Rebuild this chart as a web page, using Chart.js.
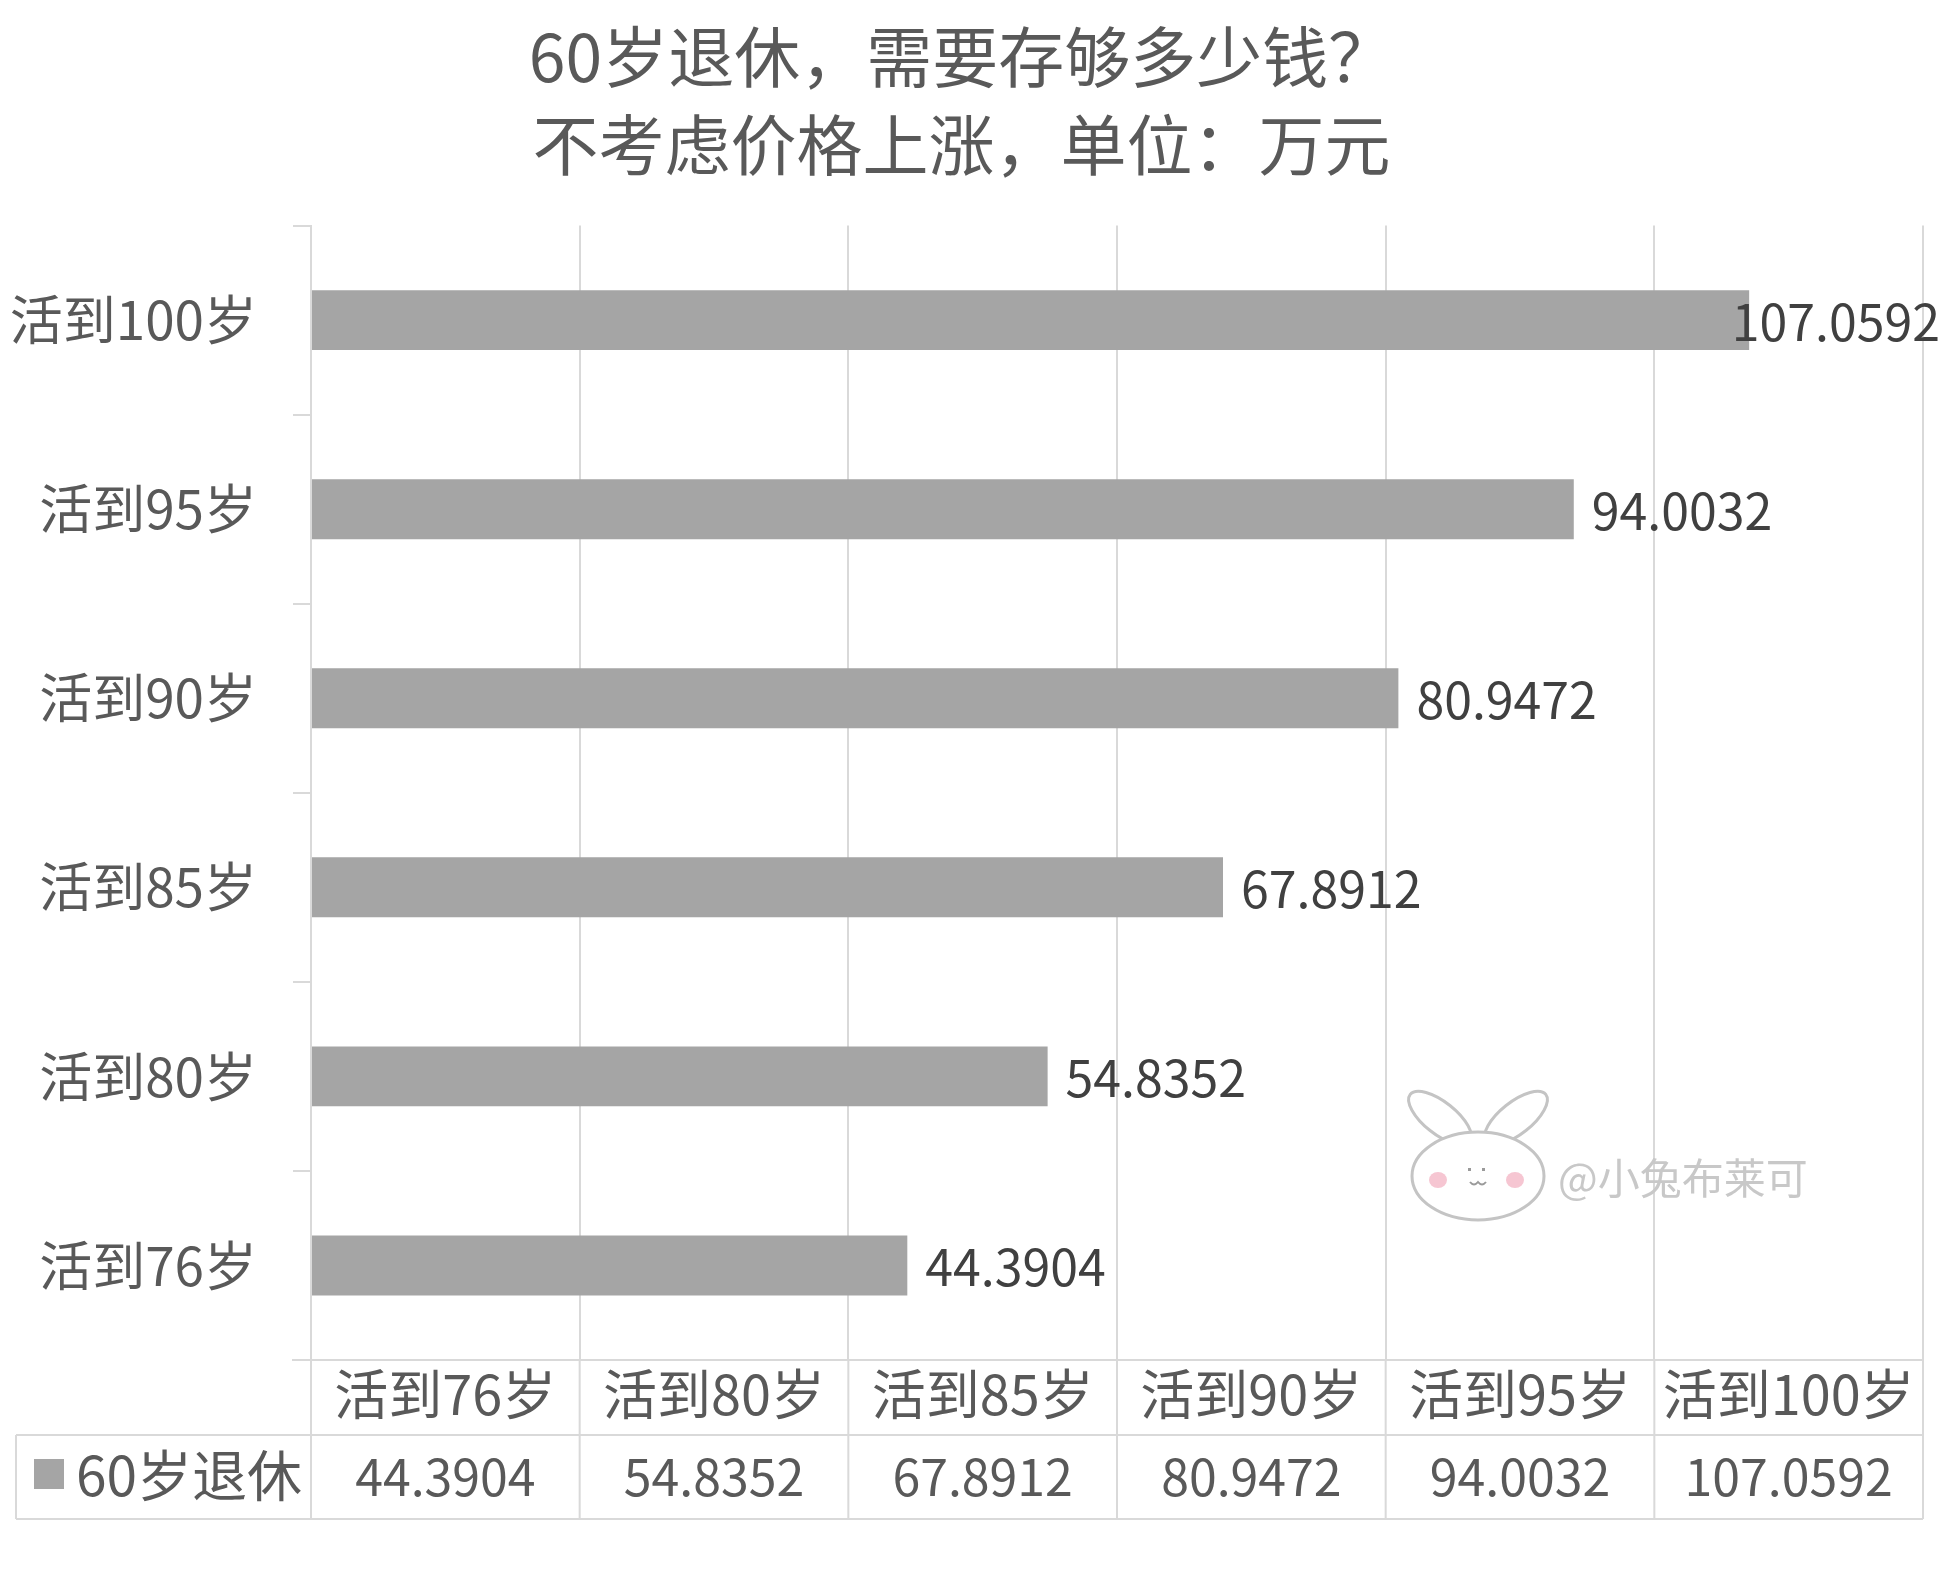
<!DOCTYPE html>
<html lang="zh-CN">
<head>
<meta charset="utf-8">
<title>60岁退休，需要存够多少钱？</title>
<script src="https://cdn.jsdelivr.net/npm/chart.js@4/dist/chart.umd.min.js"></script>
<style>
    html, body { margin: 0; padding: 0; background: #ffffff; }
    #wrap { width: 1950px; height: 1572px; position: relative; }
</style>
</head>
<body>
<div id="wrap"><canvas id="grafico"></canvas></div>
<script>
const categorias = ['活到76岁', '活到80岁', '活到85岁', '活到90岁', '活到95岁', '活到100岁'];
const nombreSerie = '60岁退休';
const valores = [44.3904, 54.8352, 67.8912, 80.9472, 94.0032, 107.0592];
const tituloLineas = ['60岁退休，需要存够多少钱？', '不考虑价格上涨，单位：万元'];
const ejeMin = 0;
const ejeMax = 120;
const ejePaso = 20;
const marcaAgua = '@小兔布莱可';

const fuente = "'Noto Sans CJK SC', 'Noto Sans', sans-serif";
const gris = '#a5a5a5';
const lineaGris = '#d9d9d9';
const textoGris = '#595959';

// etiquetas de valor al final de cada barra
const etiquetasValor = {
    id: 'etiquetasValor',
    afterDatasetsDraw(chart) {
        const ctx = chart.ctx;
        const meta = chart.getDatasetMeta(0);
        ctx.save();
        ctx.font = `50px ${fuente}`;
        ctx.fillStyle = '#404040';
        ctx.textAlign = 'left';
        ctx.textBaseline = 'middle';
        meta.data.forEach((barra, i) => {
            const texto = valores[i].toFixed(4);
            const ancho = ctx.measureText(texto).width;
            // si no cabe, se mete dentro como hace Excel
            const x = Math.min(barra.x + 18, chart.width - ancho - 10);
            ctx.fillText(texto, x, barra.y + 2);
        });
        ctx.restore();
    }
};

// tabla de datos debajo del grafico (estilo Excel)
const tablaDatos = {
    id: 'tablaDatos',
    afterDraw(chart) {
        const ctx = chart.ctx;
        const x = chart.scales.x;
        const area = chart.chartArea;
        const top = area.bottom;
        const medio = top + 75;
        const abajo = top + 159;
        const izq = 16;
        const bordes = [];
        for (let v = ejeMin; v <= ejeMax; v += ejePaso) {
            bordes.push(x.getPixelForValue(v));
        }
        ctx.save();
        ctx.strokeStyle = lineaGris;
        ctx.lineWidth = 2;
        ctx.beginPath();
        ctx.moveTo(bordes[0] - 19, top);
        ctx.lineTo(bordes[bordes.length - 1], top);
        ctx.moveTo(izq, medio);
        ctx.lineTo(bordes[bordes.length - 1], medio);
        ctx.moveTo(izq, abajo);
        ctx.lineTo(bordes[bordes.length - 1], abajo);
        bordes.forEach(b => {
            ctx.moveTo(b, top);
            ctx.lineTo(b, abajo);
        });
        ctx.moveTo(izq, medio);
        ctx.lineTo(izq, abajo);
        ctx.stroke();

        ctx.fillStyle = textoGris;
        ctx.textAlign = 'center';
        ctx.textBaseline = 'middle';
        categorias.forEach((c, i) => {
            const cx = (bordes[i] + bordes[i + 1]) / 2;
            ctx.font = `54px ${fuente}`;
            ctx.fillText(c, cx, top + 34);
            ctx.font = `50px ${fuente}`;
            ctx.fillText(valores[i].toFixed(4), cx, medio + 42);
        });

        ctx.fillStyle = gris;
        ctx.fillRect(34, medio + 24, 30, 30);
        ctx.fillStyle = textoGris;
        ctx.textAlign = 'left';
        ctx.font = `55px ${fuente}`;
        ctx.fillText(nombreSerie, 76, medio + 40);
        ctx.restore();
    }
};

// marca de agua con conejito
const conejo = {
    id: 'conejo',
    afterDraw(chart) {
        const ctx = chart.ctx;
        const cx = 1478, cy = 1176;
        ctx.save();
        ctx.strokeStyle = '#c4c4c4';
        ctx.lineWidth = 3;
        ctx.fillStyle = '#ffffff';
        // orejas
        ctx.beginPath();
        ctx.ellipse(cx - 38, cy - 58, 16, 38, -0.9, 0, Math.PI * 2);
        ctx.fill();
        ctx.stroke();
        ctx.beginPath();
        ctx.ellipse(cx + 38, cy - 58, 16, 38, 0.9, 0, Math.PI * 2);
        ctx.fill();
        ctx.stroke();
        // cabeza
        ctx.beginPath();
        ctx.ellipse(cx, cy, 66, 44, 0, 0, Math.PI * 2);
        ctx.fill();
        ctx.stroke();
        // mejillas
        ctx.fillStyle = '#f6c6d2';
        ctx.beginPath();
        ctx.ellipse(cx - 40, cy + 4, 9, 8, 0, 0, Math.PI * 2);
        ctx.fill();
        ctx.beginPath();
        ctx.ellipse(cx + 37, cy + 4, 9, 8, 0, 0, Math.PI * 2);
        ctx.fill();
        // ojos y boca
        ctx.fillStyle = '#9a9a9a';
        ctx.fillRect(cx - 10, cy - 8, 3, 3);
        ctx.fillRect(cx + 4, cy - 8, 3, 3);
        ctx.lineWidth = 2;
        ctx.beginPath();
        ctx.moveTo(cx - 8, cy + 6);
        ctx.quadraticCurveTo(cx - 4, cy + 11, cx, cy + 6);
        ctx.quadraticCurveTo(cx + 4, cy + 11, cx + 8, cy + 6);
        ctx.strokeStyle = '#9a9a9a';
        ctx.stroke();

        ctx.font = `42px ${fuente}`;
        ctx.fillStyle = '#c8c8c8';
        ctx.textAlign = 'left';
        ctx.textBaseline = 'middle';
        ctx.fillText(marcaAgua, 1558, 1178);
        ctx.restore();
    }
};

function inicializarGrafico() {
    const ctx = document.getElementById('grafico').getContext('2d');
    new Chart(ctx, {
        type: 'bar',
        data: {
            labels: categorias,
            datasets: [{
                label: nombreSerie,
                data: valores,
                backgroundColor: gris,
                borderWidth: 0,
                categoryPercentage: 1,
                barPercentage: 0.317
            }]
        },
        options: {
            indexAxis: 'y',
            responsive: true,
            maintainAspectRatio: false,
            animation: false,
            layout: {
                padding: { left: 0, right: 27, top: 0, bottom: 0 }
            },
            scales: {
                x: {
                    min: ejeMin,
                    max: ejeMax,
                    ticks: { display: false, stepSize: ejePaso },
                    grid: { color: lineaGris, lineWidth: 2, drawTicks: false },
                    border: { display: false },
                    afterFit(scale) { scale.height = 212; }
                },
                y: {
                    reverse: true,
                    ticks: {
                        color: textoGris,
                        font: { family: fuente, size: 53 },
                        padding: 36
                    },
                    grid: {
                        display: true,
                        drawOnChartArea: false,
                        drawTicks: true,
                        tickLength: 18,
                        color: lineaGris,
                        lineWidth: 2,
                        offset: true
                    },
                    border: { display: true, color: lineaGris, width: 2 },
                    afterFit(scale) { scale.width = 311; }
                }
            },
            plugins: {
                legend: { display: false },
                tooltip: { enabled: false },
                title: {
                    display: true,
                    text: tituloLineas,
                    color: textoGris,
                    font: { family: fuente, size: 66, weight: 'normal', lineHeight: 1.33 },
                    padding: { top: 13, bottom: 37 }
                }
            }
        },
        plugins: [etiquetasValor, tablaDatos, conejo]
    });
}

document.addEventListener('DOMContentLoaded', inicializarGrafico);
</script>
</body>
</html>
